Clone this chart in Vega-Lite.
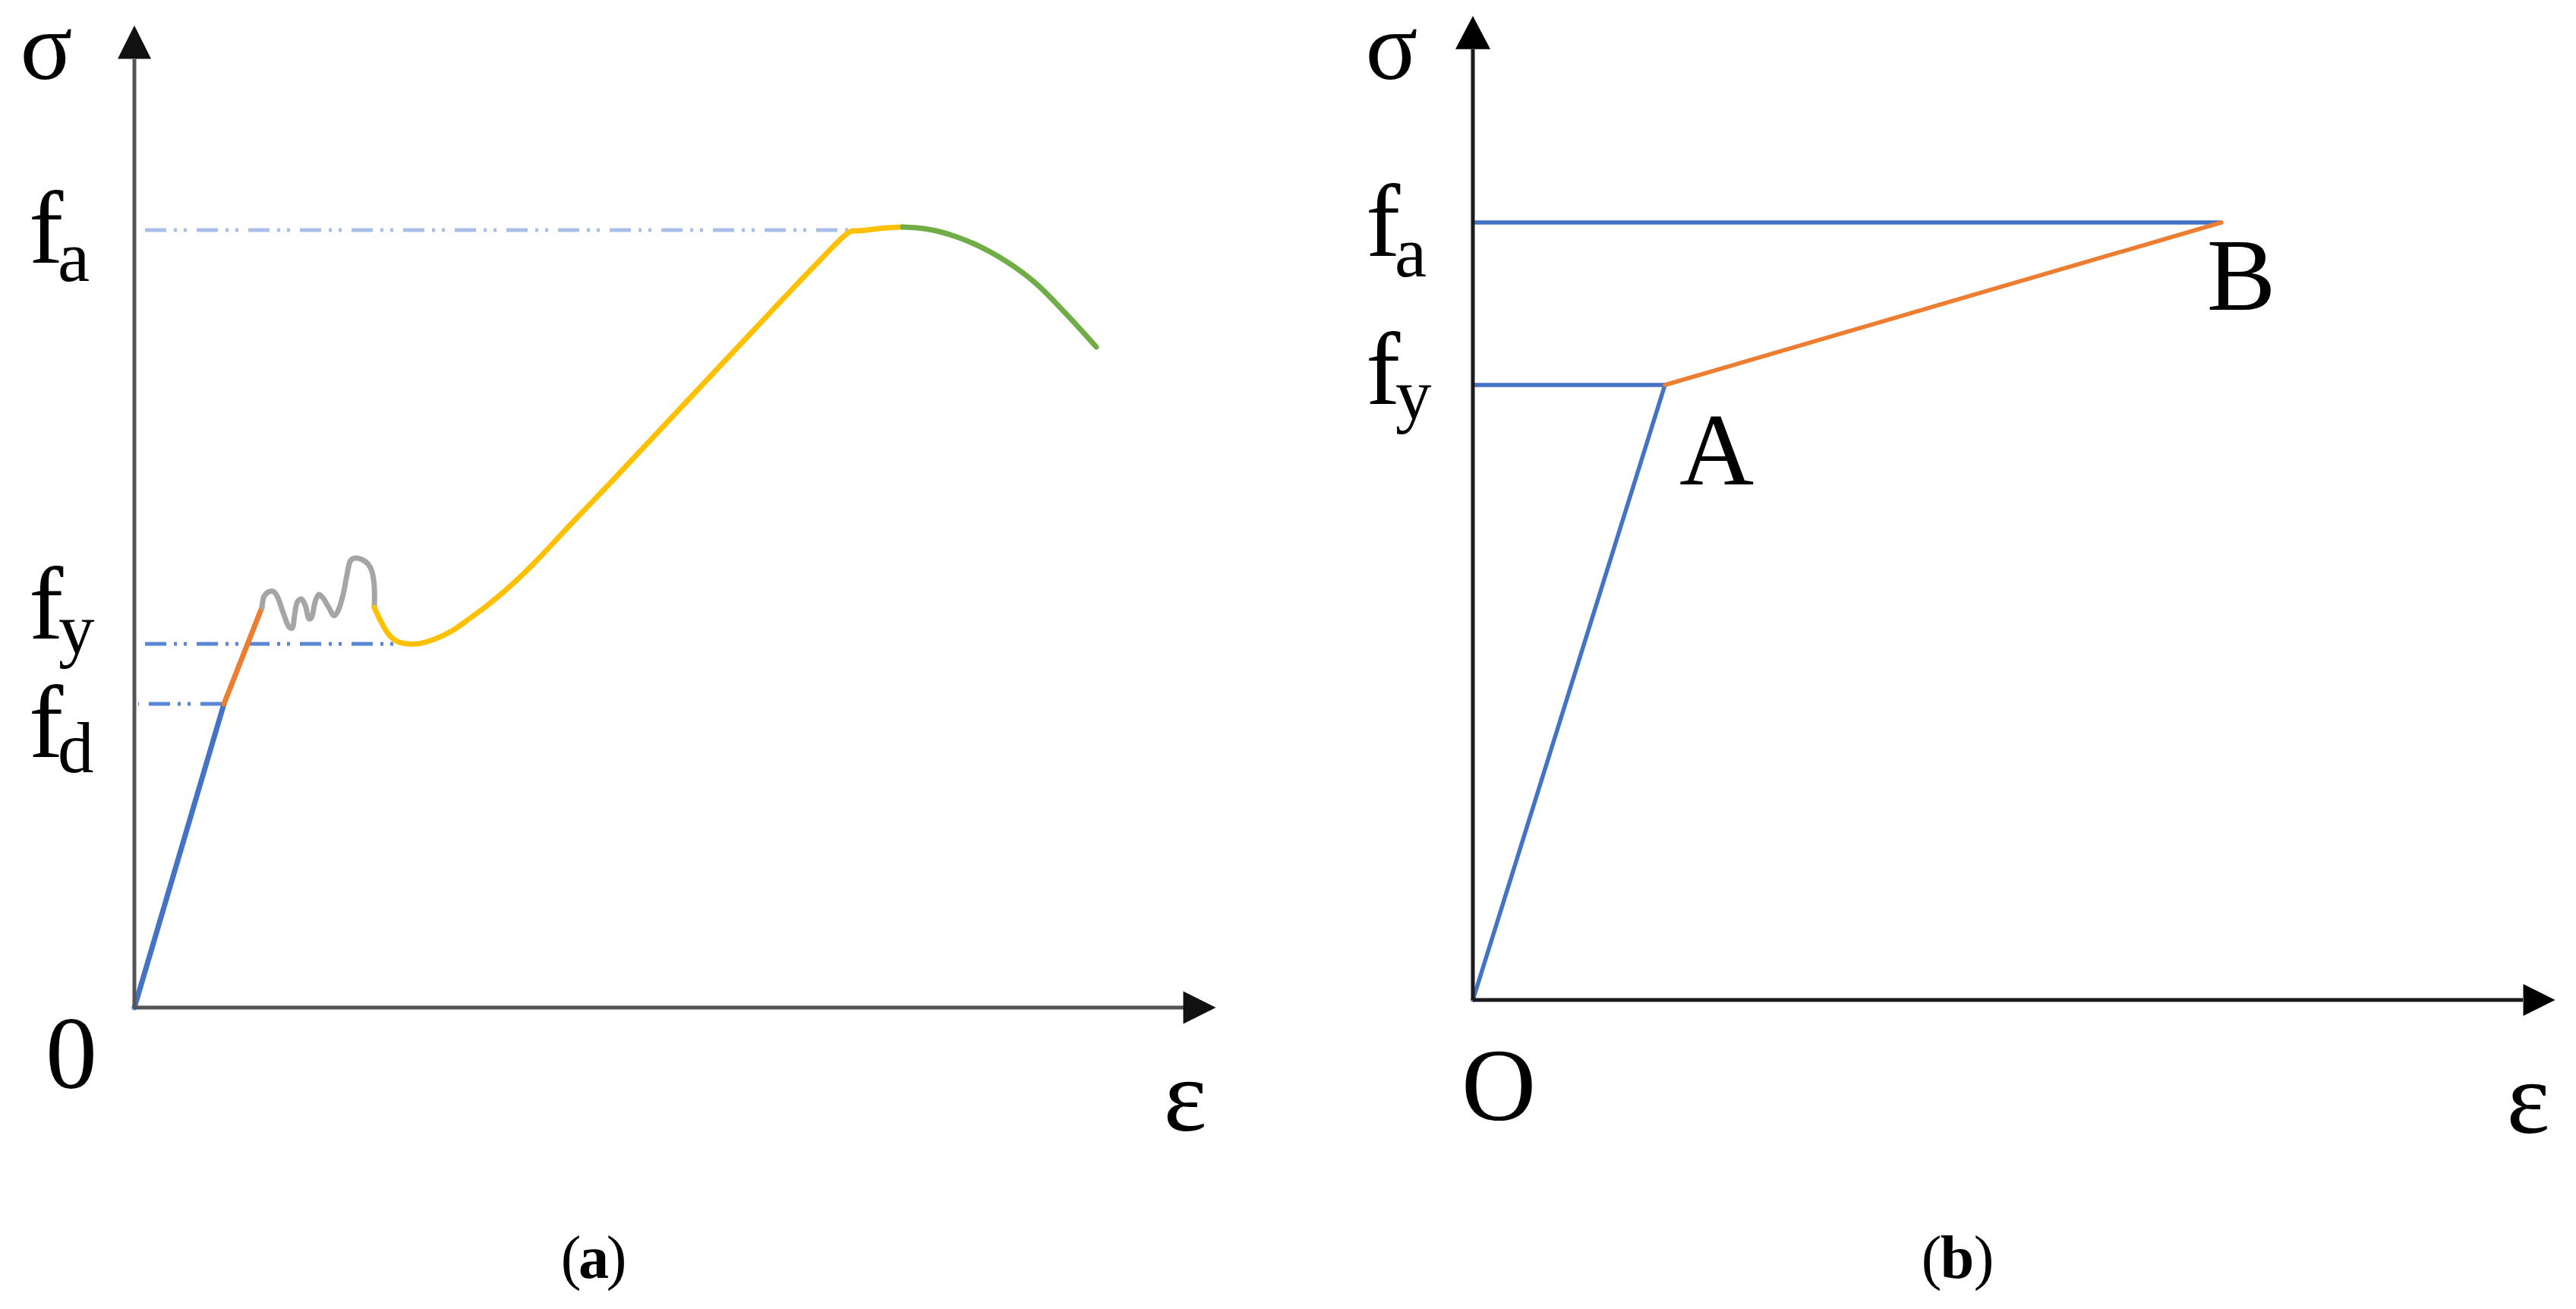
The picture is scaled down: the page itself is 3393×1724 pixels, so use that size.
{
  "$schema": "https://vega.github.io/schema/vega-lite/v6.json",
  "background": "white",
  "padding": 0,
  "spacing": 0,
  "bounds": "flush",
  "config": {"view": {"stroke": null}},
  "resolve": {"scale": {"color": "independent", "x": "independent", "y": "independent"}},
  "hconcat": [
    {
      "width": 1700,
      "height": 1724,
      "encoding": {
        "x": {"field": "e", "type": "quantitative", "scale": {"domain": [-177, 1523], "nice": false, "zero": false}, "axis": null},
        "y": {"field": "s", "type": "quantitative", "scale": {"domain": [-397, 1327], "nice": false, "zero": false}, "axis": null}
      },
      "layer": [
        {
          "data": {"values": [{"name": "fa", "e": 0, "e2": 940, "s": 1024}]},
          "mark": {"type": "rule", "color": "#A9BFEA", "strokeWidth": 5, "strokeDash": [28, 10, 4, 9, 4, 13], "strokeDashOffset": 54},
          "encoding": {"x2": {"field": "e2"}}
        },
        {
          "data": {"values": [{"name": "fy", "e": 0, "e2": 356, "s": 479}, {"name": "fd", "e": 5, "e2": 118, "s": 400}]},
          "mark": {"type": "rule", "color": "#5A86D6", "strokeWidth": 5, "strokeDash": [28, 10, 4, 9, 4, 13], "strokeDashOffset": 54},
          "encoding": {"x2": {"field": "e2"}}
        },
        {
          "data": {"values": [
            {"stage": "elastic", "o": 1, "e": 0, "s": 0},
            {"stage": "elastic", "o": 2, "e": 118, "s": 400},
            {"stage": "elastoplastic", "o": 1, "e": 118, "s": 400},
            {"stage": "elastoplastic", "o": 2, "e": 168, "s": 527},
            {"stage": "yield", "o": 1, "e": 168, "s": 527},
            {"stage": "yield", "o": 2, "e": 171, "s": 542},
            {"stage": "yield", "o": 3, "e": 176, "s": 547},
            {"stage": "yield", "o": 4, "e": 183, "s": 548},
            {"stage": "yield", "o": 5, "e": 188, "s": 542},
            {"stage": "yield", "o": 6, "e": 196, "s": 520},
            {"stage": "yield", "o": 7, "e": 204, "s": 501},
            {"stage": "yield", "o": 8, "e": 208, "s": 500},
            {"stage": "yield", "o": 9, "e": 211, "s": 517},
            {"stage": "yield", "o": 10, "e": 215, "s": 535},
            {"stage": "yield", "o": 11, "e": 220, "s": 538},
            {"stage": "yield", "o": 12, "e": 225, "s": 530},
            {"stage": "yield", "o": 13, "e": 230, "s": 512},
            {"stage": "yield", "o": 14, "e": 233, "s": 513},
            {"stage": "yield", "o": 15, "e": 238, "s": 534},
            {"stage": "yield", "o": 16, "e": 243, "s": 544},
            {"stage": "yield", "o": 17, "e": 248, "s": 540},
            {"stage": "yield", "o": 18, "e": 256, "s": 527},
            {"stage": "yield", "o": 19, "e": 263, "s": 516},
            {"stage": "yield", "o": 20, "e": 268, "s": 522},
            {"stage": "yield", "o": 21, "e": 275, "s": 544},
            {"stage": "yield", "o": 22, "e": 280, "s": 570},
            {"stage": "yield", "o": 23, "e": 285, "s": 589},
            {"stage": "yield", "o": 24, "e": 291, "s": 592},
            {"stage": "yield", "o": 25, "e": 300, "s": 590},
            {"stage": "yield", "o": 26, "e": 308, "s": 584},
            {"stage": "yield", "o": 27, "e": 313, "s": 574},
            {"stage": "yield", "o": 28, "e": 316, "s": 554},
            {"stage": "yield", "o": 29, "e": 316, "s": 527},
            {"stage": "hardening", "o": 1, "e": 316, "s": 527},
            {"stage": "hardening", "o": 2, "e": 326, "s": 506},
            {"stage": "hardening", "o": 3, "e": 337, "s": 489},
            {"stage": "hardening", "o": 4, "e": 349, "s": 481},
            {"stage": "hardening", "o": 5, "e": 372, "s": 479},
            {"stage": "hardening", "o": 6, "e": 395, "s": 485},
            {"stage": "hardening", "o": 7, "e": 418, "s": 496},
            {"stage": "hardening", "o": 8, "e": 441, "s": 512},
            {"stage": "hardening", "o": 9, "e": 464, "s": 529},
            {"stage": "hardening", "o": 10, "e": 487, "s": 548},
            {"stage": "hardening", "o": 11, "e": 510, "s": 569},
            {"stage": "hardening", "o": 12, "e": 533, "s": 592},
            {"stage": "hardening", "o": 13, "e": 578, "s": 640},
            {"stage": "hardening", "o": 14, "e": 624, "s": 688},
            {"stage": "hardening", "o": 15, "e": 670, "s": 737},
            {"stage": "hardening", "o": 16, "e": 716, "s": 786},
            {"stage": "hardening", "o": 17, "e": 762, "s": 835},
            {"stage": "hardening", "o": 18, "e": 808, "s": 884},
            {"stage": "hardening", "o": 19, "e": 854, "s": 933},
            {"stage": "hardening", "o": 20, "e": 900, "s": 981},
            {"stage": "hardening", "o": 21, "e": 943, "s": 1022},
            {"stage": "hardening", "o": 22, "e": 955, "s": 1023},
            {"stage": "hardening", "o": 23, "e": 992, "s": 1027},
            {"stage": "hardening", "o": 24, "e": 1012, "s": 1028},
            {"stage": "necking", "o": 1, "e": 1012, "s": 1028},
            {"stage": "necking", "o": 2, "e": 1030, "s": 1027},
            {"stage": "necking", "o": 3, "e": 1056, "s": 1023},
            {"stage": "necking", "o": 4, "e": 1083, "s": 1015},
            {"stage": "necking", "o": 5, "e": 1108, "s": 1005},
            {"stage": "necking", "o": 6, "e": 1148, "s": 983},
            {"stage": "necking", "o": 7, "e": 1186, "s": 955},
            {"stage": "necking", "o": 8, "e": 1225, "s": 916},
            {"stage": "necking", "o": 9, "e": 1267, "s": 870}
          ]},
          "mark": {"type": "line", "interpolate": "catmull-rom", "strokeWidth": 7, "strokeCap": "round", "strokeJoin": "round"},
          "encoding": {
            "color": {"field": "stage", "type": "nominal", "scale": {"domain": ["elastic", "elastoplastic", "yield", "hardening", "necking"], "range": ["#4472C4", "#ED7D31", "#A5A5A5", "#FFC000", "#70AD47"]}, "legend": null},
            "order": {"field": "o", "type": "quantitative"}
          }
        },
        {
          "data": {"values": [{"axis": "strain", "e": 0, "e2": 1383, "s": 0, "s2": 0}, {"axis": "stress", "e": 0, "e2": 0, "s": 0, "s2": 1249}]},
          "mark": {"type": "rule", "color": "#555555", "strokeWidth": 5},
          "encoding": {"x2": {"field": "e2"}, "y2": {"field": "s2"}}
        },
        {
          "data": {"values": [{"axis": "stress", "e": 0, "s": 1271.5}]},
          "mark": {"type": "point", "shape": "M0,-1L1,1L-1,1Z", "size": 1936, "filled": true, "color": "#111111", "opacity": 1, "strokeWidth": 0}
        },
        {
          "data": {"values": [{"axis": "strain", "e": 1403, "s": 0}]},
          "mark": {"type": "point", "shape": "M1,0L-1,-1L-1,1Z", "size": 1849, "filled": true, "color": "#111111", "opacity": 1, "strokeWidth": 0}
        },
        {
          "data": {"values": [{"label": "σ", "e": -116, "s": 1223}]},
          "mark": {"type": "text", "font": "Liberation Serif", "fontSize": 128, "align": "center", "baseline": "alphabetic", "color": "#000000"},
          "encoding": {"text": {"field": "label"}}
        },
        {
          "data": {"values": [{"label": "0", "e": -83, "s": -106}, {"label": "ε", "e": 1384, "s": -162}]},
          "mark": {"type": "text", "font": "Liberation Serif", "fontSize": 136, "align": "center", "baseline": "alphabetic", "color": "#000000"},
          "encoding": {"text": {"field": "label"}}
        },
        {
          "data": {"values": [{"label": "f", "e": -139, "s": 981}, {"label": "f", "e": -139, "s": 486}, {"label": "f", "e": -139, "s": 330}]},
          "mark": {"type": "text", "font": "Liberation Serif", "fontSize": 136, "align": "left", "baseline": "alphabetic", "color": "#000000"},
          "encoding": {"text": {"field": "label"}}
        },
        {
          "data": {"values": [{"label": "a", "e": -101, "s": 957}, {"label": "y", "e": -100, "s": 466}, {"label": "d", "e": -101, "s": 310}]},
          "mark": {"type": "text", "font": "Liberation Serif", "fontSize": 95, "align": "left", "baseline": "alphabetic", "color": "#000000"},
          "encoding": {"text": {"field": "label"}}
        },
        {
          "data": {"values": [{"label": "(", "e": 575, "s": -356}, {"label": ")", "e": 635, "s": -356}]},
          "mark": {"type": "text", "font": "Liberation Serif", "fontSize": 80, "align": "center", "baseline": "alphabetic", "color": "#000000"},
          "encoding": {"text": {"field": "label"}}
        },
        {
          "data": {"values": [{"label": "a", "e": 605, "s": -356}]},
          "mark": {"type": "text", "font": "Liberation Serif", "fontSize": 80, "fontWeight": "bold", "align": "center", "baseline": "alphabetic", "color": "#000000"},
          "encoding": {"text": {"field": "label"}}
        }
      ]
    },
    {
      "width": 1693,
      "height": 1724,
      "encoding": {
        "x": {"field": "e", "type": "quantitative", "scale": {"domain": [-240, 1453], "nice": false, "zero": false}, "axis": null},
        "y": {"field": "s", "type": "quantitative", "scale": {"domain": [-407, 1317], "nice": false, "zero": false}, "axis": null}
      },
      "layer": [
        {
          "data": {"values": [{"name": "fa", "e": 0, "e2": 986, "s": 1024}, {"name": "fy", "e": 0, "e2": 253, "s": 810}]},
          "mark": {"type": "rule", "color": "#4472C4", "strokeWidth": 5.5},
          "encoding": {"x2": {"field": "e2"}}
        },
        {
          "data": {"values": [
            {"stage": "elastic", "o": 1, "e": 0, "s": 0},
            {"stage": "elastic", "o": 2, "e": 253, "s": 810},
            {"stage": "hardening", "o": 1, "e": 253, "s": 810},
            {"stage": "hardening", "o": 2, "e": 986, "s": 1024}
          ]},
          "mark": {"type": "line", "strokeWidth": 5.5, "strokeCap": "round"},
          "encoding": {
            "color": {"field": "stage", "type": "nominal", "scale": {"domain": ["elastic", "hardening"], "range": ["#4472C4", "#ED7D31"]}, "legend": null},
            "order": {"field": "o", "type": "quantitative"}
          }
        },
        {
          "data": {"values": [{"axis": "strain", "e": 0, "e2": 1383, "s": 0, "s2": 0}, {"axis": "stress", "e": 0, "e2": 0, "s": 0, "s2": 1252}]},
          "mark": {"type": "rule", "color": "#1a1a1a", "strokeWidth": 5},
          "encoding": {"x2": {"field": "e2"}, "y2": {"field": "s2"}}
        },
        {
          "data": {"values": [{"axis": "stress", "e": 0, "s": 1273}]},
          "mark": {"type": "point", "shape": "M0,-1L1,0.9L-1,0.9Z", "size": 2116, "filled": true, "color": "#000000", "opacity": 1, "strokeWidth": 0}
        },
        {
          "data": {"values": [{"axis": "strain", "e": 1404.5, "s": 0}]},
          "mark": {"type": "point", "shape": "M1,0L-1,-1L-1,1Z", "size": 1764, "filled": true, "color": "#000000", "opacity": 1, "strokeWidth": 0}
        },
        {
          "data": {"values": [{"label": "σ", "e": -107, "s": 1213}]},
          "mark": {"type": "text", "font": "Liberation Serif", "fontSize": 128, "align": "center", "baseline": "alphabetic", "color": "#000000"},
          "encoding": {"text": {"field": "label"}}
        },
        {
          "data": {"values": [{"label": "A", "e": 321, "s": 679}, {"label": "B", "e": 1012, "s": 909}, {"label": "O", "e": 34, "s": -158}, {"label": "ε", "e": 1390, "s": -175}]},
          "mark": {"type": "text", "font": "Liberation Serif", "fontSize": 136, "align": "center", "baseline": "alphabetic", "color": "#000000"},
          "encoding": {"text": {"field": "label"}}
        },
        {
          "data": {"values": [{"label": "f", "e": -141, "s": 980}, {"label": "f", "e": -141, "s": 785}]},
          "mark": {"type": "text", "font": "Liberation Serif", "fontSize": 136, "align": "left", "baseline": "alphabetic", "color": "#000000"},
          "encoding": {"text": {"field": "label"}}
        },
        {
          "data": {"values": [{"label": "a", "e": -103, "s": 953}, {"label": "y", "e": -102, "s": 765}]},
          "mark": {"type": "text", "font": "Liberation Serif", "fontSize": 95, "align": "left", "baseline": "alphabetic", "color": "#000000"},
          "encoding": {"text": {"field": "label"}}
        },
        {
          "data": {"values": [{"label": "(", "e": 604, "s": -366}, {"label": ")", "e": 673, "s": -366}]},
          "mark": {"type": "text", "font": "Liberation Serif", "fontSize": 80, "align": "center", "baseline": "alphabetic", "color": "#000000"},
          "encoding": {"text": {"field": "label"}}
        },
        {
          "data": {"values": [{"label": "b", "e": 638, "s": -366}]},
          "mark": {"type": "text", "font": "Liberation Serif", "fontSize": 80, "fontWeight": "bold", "align": "center", "baseline": "alphabetic", "color": "#000000"},
          "encoding": {"text": {"field": "label"}}
        }
      ]
    }
  ]
}
